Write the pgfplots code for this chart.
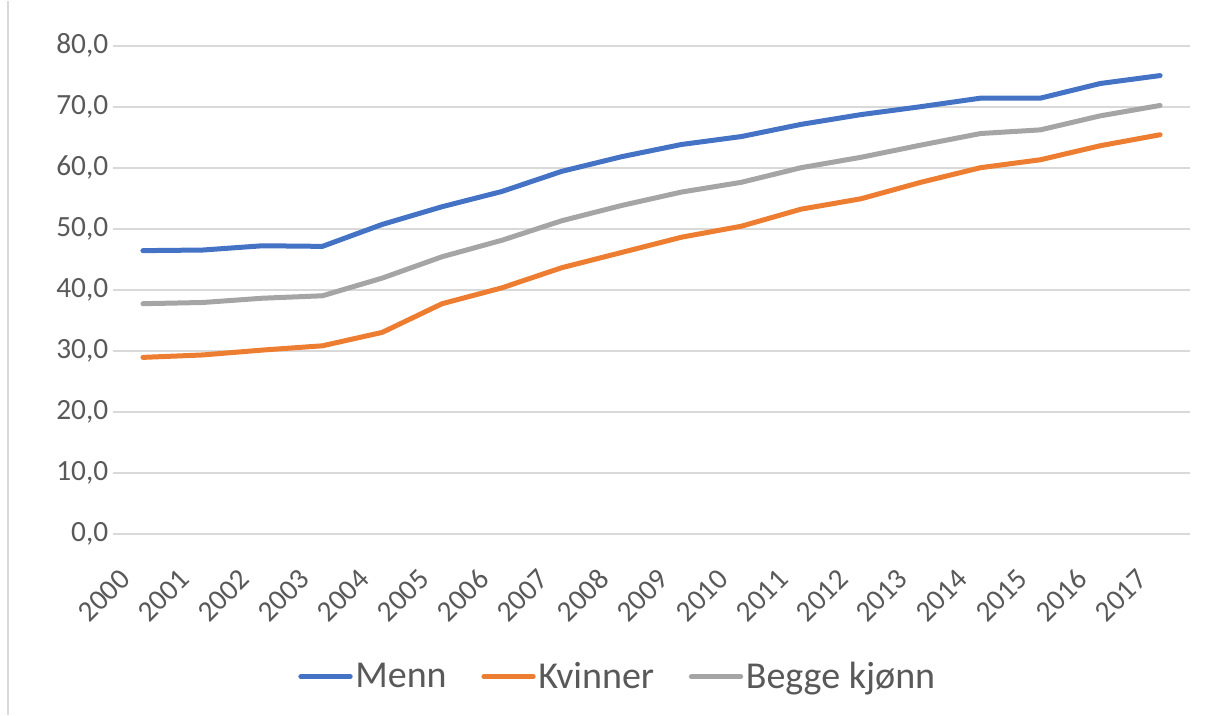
\documentclass[border=0pt]{standalone}
\usepackage{fontspec}
\setmainfont{Carlito}
\usepackage{pgfplots}
\pgfplotsset{compat=1.18}
\usepackage{pgfplotstable}
\usetikzlibrary{calc}
\definecolor{cblue}{HTML}{4472C4}
\definecolor{corange}{HTML}{ED7D31}
\definecolor{cgray}{HTML}{A5A5A5}
\definecolor{cgrid}{HTML}{D9D9D9}
\definecolor{ctext}{HTML}{595959}
\pgfplotstableread{
year menn kvinner begge
2000 46.4 28.9 37.7
2001 46.5 29.3 37.9
2002 47.2 30.1 38.6
2003 47.1 30.8 39.0
2004 50.7 33.0 41.9
2005 53.6 37.7 45.4
2006 56.1 40.3 48.1
2007 59.4 43.6 51.3
2008 61.8 46.1 53.8
2009 63.8 48.6 56.0
2010 65.1 50.4 57.6
2011 67.1 53.2 60.0
2012 68.7 54.9 61.7
2013 70.0 57.6 63.7
2014 71.4 60.0 65.6
2015 71.4 61.3 66.2
2016 73.8 63.6 68.5
2017 75.1 65.4 70.2
}\datatable
\begin{document}
\begin{tikzpicture}
\begin{axis}[
  name=ax,
  scale only axis,
  width=807.75pt, height=366pt,
  xmin=1999.5, xmax=2017.5,
  ymin=0, ymax=80,
  ytick={0,10,...,80},
  xtick={2000,2001,...,2017},
  axis line style={draw=none},
  major tick length=0pt,
  ymajorgrids,
  grid style={cgrid, line width=1.5pt},
  /pgf/number format/assume math mode=true,
  ticklabel style={font=\fontsize{22}{26}\selectfont, text=ctext},
  yticklabel style={/pgf/number format/.cd, fixed, fixed zerofill, precision=1, use comma},
  xticklabel style={/pgf/number format/1000 sep={}, xshift=-11pt, yshift=-28pt, rotate=45, anchor=east},
  legend columns=3,
  legend cell align=left,
  legend style={at={(0.469,-0.293)}, anchor=center, draw=none, fill=none,
    font=\fontsize{28.5}{33}\selectfont, text=ctext,
    /tikz/every even column/.append style={column sep=24pt}},
  legend image code/.code={\draw[#1, line cap=round] (0pt,0pt) -- (37pt,0pt);},
]
\addplot[cblue, line width=3.75pt, line join=round, line cap=round] table[x=year, y=menn] {\datatable};
\addlegendentry{Menn}
\addplot[corange, line width=3.75pt, line join=round, line cap=round] table[x=year, y=kvinner] {\datatable};
\addlegendentry{Kvinner}
\addplot[cgray, line width=3.75pt, line join=round, line cap=round] table[x=year, y=begge] {\datatable};
\addlegendentry{Begge kjønn}
\end{axis}
\pgfresetboundingbox
\path ($(ax.south west)+(-84.75pt,-135.75pt)$) rectangle ($(ax.north east)+(11.25pt,33.75pt)$);
\draw[cgrid, line width=1pt] ($(ax.south west)+(-78.75pt,-135.75pt)$) -- ($(ax.south west)+(-78.75pt,399.75pt)$);
\end{tikzpicture}
\end{document}
